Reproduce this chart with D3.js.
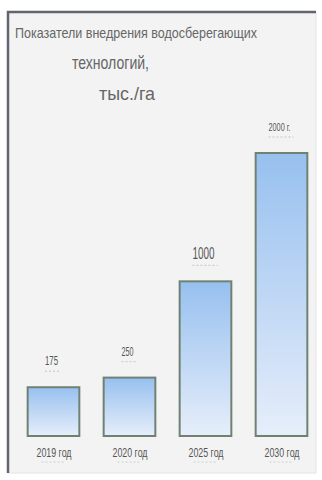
<!DOCTYPE html>
<html>
<head>
<meta charset="utf-8">
<script src="https://cdn.jsdelivr.net/npm/d3@7"></script>
<style>
  html, body { margin: 0; padding: 0; background: #fff; }
  svg { display: block; font-family: 'Liberation Sans', Arial, sans-serif; }
</style>
</head>
<body>
<div id="chart"></div>
<script>
// data
var years = ['2019 год', '2020 год', '2025 год', '2030 год']
var values = [175, 250, 1000, 2000]
var valueLabels = ['175', '250', '1000', '2000 г.']
var titleLines = ['Показатели внедрения водосберегающих', 'технологий,', 'тыс./га']

var width = 322
var height = 480
var baseline = 436

var svg = d3.select('#chart').append('svg')
  .attr('width', width)
  .attr('height', height)

var defs = svg.append('defs')
var grad = defs.append('linearGradient')
  .attr('id', 'barGrad')
  .attr('x1', 0).attr('y1', 0).attr('x2', 0).attr('y2', 1)
grad.append('stop').attr('offset', '0%').attr('stop-color', '#97c0ef')
grad.append('stop').attr('offset', '100%').attr('stop-color', '#e6eefa')

// panel
svg.append('rect')
  .attr('x', 8).attr('y', 12)
  .attr('width', 308).attr('height', 461)
  .attr('fill', '#f3f3f4')
  .attr('stroke', '#e3e4ea')
  .attr('stroke-width', 1)
svg.append('path')
  .attr('d', 'M8,473 L8,12 L316,12')
  .attr('fill', 'none')
  .attr('stroke', '#62656f')
  .attr('stroke-width', 2.5)

// title
var titlePos = [{x: 15, y: 38, size: 14.5, len: 242}, {x: 72, y: 69, size: 19, len: 77}, {x: 99, y: 100, size: 19, len: 56}]
svg.selectAll('text.title')
  .data(titleLines)
  .join('text')
  .attr('class', 'title')
  .attr('x', (d, i) => titlePos[i].x)
  .attr('y', (d, i) => titlePos[i].y)
  .attr('font-size', (d, i) => titlePos[i].size)
  .attr('textLength', (d, i) => titlePos[i].len)
  .attr('lengthAdjust', 'spacingAndGlyphs')
  .attr('fill', '#666')
  .text(d => d)

var x = d3.scaleBand()
  .domain(years)
  .range([15.5, 319.5])
  .paddingInner(0.32)
  .paddingOuter(0.16)

// heights in the picture are not proportional, so the scale starts below zero
var y = d3.scaleLinear()
  .domain([-205, 2000])
  .range([baseline, baseline - 283])

svg.selectAll('rect.bar')
  .data(values)
  .join('rect')
  .attr('class', 'bar')
  .attr('x', (d, i) => x(years[i]))
  .attr('y', d => y(d))
  .attr('width', x.bandwidth())
  .attr('height', d => baseline - y(d))
  .attr('fill', 'url(#barGrad)')
  .attr('stroke', '#6f8272')
  .attr('stroke-width', 2)

// value labels
var valSize = [13, 13, 16, 11]
var valLen = [13, 12, 22, 22]
svg.selectAll('text.val')
  .data(values)
  .join('text')
  .attr('class', 'val')
  .attr('x', (d, i) => x(years[i]) + x.bandwidth() / 2 - 2 - valLen[i] / 2)
  .attr('y', d => y(d) - 22)
  .attr('font-size', (d, i) => valSize[i])
  .attr('textLength', (d, i) => valLen[i])
  .attr('lengthAdjust', 'spacingAndGlyphs')
  .attr('fill', '#555')
  .text((d, i) => valueLabels[i])

// faint squiggly underlines under the value labels
svg.selectAll('line.under')
  .data(values)
  .join('line')
  .attr('class', 'under')
  .attr('x1', (d, i) => x(years[i]) + x.bandwidth() / 2 - 2 - valLen[i] / 2)
  .attr('x2', (d, i) => x(years[i]) + x.bandwidth() / 2 - 2 + valLen[i] / 2 + 3)
  .attr('y1', d => y(d) - 16)
  .attr('y2', d => y(d) - 16)
  .attr('stroke', '#b9b9b9')
  .attr('stroke-width', 0.8)
  .attr('stroke-dasharray', '2,2')

// category labels
svg.selectAll('text.cat')
  .data(years)
  .join('text')
  .attr('class', 'cat')
  .attr('x', d => x(d) + x.bandwidth() / 2 - 17)
  .attr('y', baseline + 21)
  .attr('font-size', 13.5)
  .attr('textLength', 35)
  .attr('lengthAdjust', 'spacingAndGlyphs')
  .attr('fill', '#555')
  .text(d => d)

svg.selectAll('line.catunder')
  .data(years)
  .join('line')
  .attr('class', 'catunder')
  .attr('x1', d => x(d) + x.bandwidth() / 2 - 12)
  .attr('x2', d => x(d) + x.bandwidth() / 2 + 12)
  .attr('y1', baseline + 26)
  .attr('y2', baseline + 26)
  .attr('stroke', '#c4c4c4')
  .attr('stroke-width', 0.8)
  .attr('stroke-dasharray', '2,2')
</script>
</body>
</html>
